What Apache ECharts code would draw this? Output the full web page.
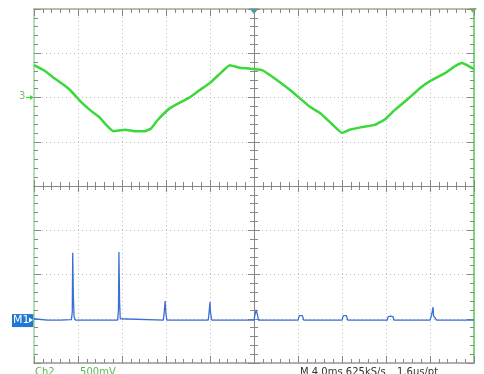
<!DOCTYPE html>
<html>
<head>
<meta charset="utf-8">
<script src="https://cdn.jsdelivr.net/npm/echarts@6/dist/echarts.min.js"></script>
<style>
  html, body { margin: 0; padding: 0; background: #fff; }
  #main { width: 484px; height: 374px; }
</style>
</head>
<body>
<div id="main"></div>
<script>
// screen in divisions: 10 across, 8 down (-4..4)
var ch2Trace = [
    [0, 2.73], [0.25, 2.60], [0.43, 2.46], [0.64, 2.31], [0.82, 2.17], [1.05, 1.92],
    [1.27, 1.72], [1.5, 1.54], [1.64, 1.38], [1.80, 1.24], [2.07, 1.27], [2.30, 1.24],
    [2.52, 1.24], [2.66, 1.30], [2.80, 1.48], [3.09, 1.76], [3.55, 2.01], [3.77, 2.17],
    [4.0, 2.33], [4.27, 2.58], [4.45, 2.73], [4.68, 2.67], [5.02, 2.64], [5.18, 2.62],
    [5.36, 2.51], [5.82, 2.17], [6.27, 1.79], [6.50, 1.65], [6.77, 1.40], [7.0, 1.20],
    [7.18, 1.27], [7.45, 1.33], [7.75, 1.38], [7.98, 1.51], [8.20, 1.72], [8.55, 2.01],
    [8.77, 2.21], [9.0, 2.37], [9.34, 2.55], [9.57, 2.71], [9.73, 2.78], [10, 2.64]
];

var m1Trace = [
    [0, -3.0], [0.3, -3.03], [0.6, -3.03], [0.85, -3.02], [0.87, -2.85], [0.88, -1.51],
    [0.895, -2.5], [0.91, -2.95], [0.94, -3.03],
    [1.9, -3.03], [1.92, -2.8], [1.93, -1.49], [1.945, -2.6], [1.96, -3.0],
    [2.94, -3.03], [2.96, -2.85], [2.98, -2.6], [3.0, -2.9], [3.02, -3.03],
    [3.96, -3.03], [3.98, -2.85], [4.0, -2.62], [4.01, -2.85], [4.04, -3.03],
    [5.0, -3.03], [5.02, -2.92], [5.05, -2.80], [5.08, -2.92], [5.1, -3.03],
    [6.0, -3.03], [6.03, -2.93], [6.06, -2.91], [6.1, -2.93], [6.13, -3.03],
    [7.0, -3.03], [7.03, -2.93], [7.06, -2.89], [7.1, -2.93], [7.13, -3.03],
    [8.03, -3.03], [8.05, -2.95], [8.1, -2.94], [8.16, -2.95], [8.18, -3.03],
    [9.0, -3.03], [9.03, -2.94], [9.07, -2.74], [9.08, -2.93], [9.12, -2.94], [9.15, -3.03],
    [10, -3.03]
];

var ch2Level = 2;      // "3" ground marker level (div)
var m1Level = -3.03;   // M1 reference level (div)

var myChart = echarts.init(document.getElementById('main'));

var box = { left: 34, top: 9, width: 440, height: 354 };
var tickGrey = { color: '#888' };
function frameAxis(pos, min, max, extra) {
    var a = {
        type: 'value', position: pos, min: min, max: max, interval: 1,
        axisLine: { show: true, onZero: false, lineStyle: { color: '#999', width: 1.5 } },
        axisTick: { show: true, inside: true, length: 7, lineStyle: tickGrey },
        minorTick: { show: true, splitNumber: 5, length: 4, lineStyle: tickGrey },
        axisLabel: { show: false },
        splitLine: { show: false }
    };
    return Object.assign(a, extra || {});
}
var dotted = { show: true, lineStyle: { color: '#bbb', type: [1, 3], width: 1 } };
var centerLine = { show: true, onZero: true, lineStyle: { color: '#888', width: 1 } };

myChart.setOption({
    animation: false,
    backgroundColor: '#fff',
    grid: [
        Object.assign({}, box),
        Object.assign({}, box),
        Object.assign({}, box)
    ],
    xAxis: [
        frameAxis('bottom', 0, 10, { gridIndex: 0, splitLine: dotted }),
        frameAxis('top', 0, 10, { gridIndex: 0, axisLine: { show: true, onZero: false, lineStyle: { color: '#aaa98a', width: 1.5 } } }),
        frameAxis('bottom', -5, 5, { gridIndex: 1, axisLine: centerLine,
            axisTick: { show: true, inside: true, length: 6, lineStyle: tickGrey } }),
        frameAxis('bottom', -5, 5, { gridIndex: 2, axisLine: centerLine,
            axisTick: { show: true, inside: false, length: 6, lineStyle: tickGrey } })
    ],
    yAxis: [
        frameAxis('left', -4, 4, { gridIndex: 0, splitLine: dotted, axisLine: { show: true, onZero: false, lineStyle: { color: '#9fd89f', width: 1.5 } } }),
        frameAxis('right', -4, 4, { gridIndex: 0, axisLine: { show: true, onZero: false, lineStyle: { color: '#5c5', width: 1.5 } } }),
        frameAxis('left', -4, 4, { gridIndex: 1, axisLine: centerLine,
            axisTick: { show: true, inside: true, length: 6, lineStyle: tickGrey } }),
        frameAxis('left', -4, 4, { gridIndex: 2, axisLine: centerLine,
            axisTick: { show: true, inside: false, length: 6, lineStyle: tickGrey } })
    ],
    series: [{
        name: 'Ch2',
        type: 'line',
        xAxisIndex: 0, yAxisIndex: 0,
        data: ch2Trace,
        showSymbol: false,
        smooth: 0.12,
        lineStyle: { color: '#3ad83a', width: 2.5 }
    }, {
        name: 'M1',
        type: 'line',
        xAxisIndex: 0, yAxisIndex: 0,
        data: m1Trace,
        showSymbol: false,
        lineStyle: { color: '#3b6fd6', width: 1.3 }
    }]
});

// channel markers placed at their levels through the axis scale
var ch2Y = myChart.convertToPixel({ gridIndex: 0 }, [0, ch2Level])[1];
var m1Y = myChart.convertToPixel({ gridIndex: 0 }, [0, m1Level])[1];
myChart.setOption({
    graphic: [
        { type: 'text', left: 19, top: ch2Y - 6, style: { text: '3', fill: '#7b7', font: '10px "DejaVu Sans"' } },
        { type: 'line', shape: { x1: 26, y1: ch2Y, x2: 32, y2: ch2Y }, style: { stroke: '#3ad83a', lineWidth: 1.2 } },
        { type: 'polygon', shape: { points: [[30, ch2Y - 2.5], [34, ch2Y], [30, ch2Y + 2.5]] }, style: { fill: '#3ad83a' } },
        { type: 'rect', shape: { x: 12, y: m1Y - 6, width: 22, height: 13 }, style: { fill: '#1f78d1' } },
        { type: 'text', left: 13, top: m1Y - 5, style: { text: 'M1', fill: '#fff', font: '11px "DejaVu Sans"' } },
        { type: 'polygon', shape: { points: [[29, m1Y - 2.5], [33, m1Y], [29, m1Y + 2.5]] }, style: { fill: '#fff' } },
        { type: 'polygon', shape: { points: [[249, 8], [259, 8], [254, 14]] }, style: { fill: '#21a6c4' } },
        { type: 'polygon', shape: { points: [[469, 8], [477, 8], [473, 13]] }, style: { fill: '#5c5' } },
        { type: 'text', left: 35, top: 367, style: { text: 'Ch2        500mV', fill: '#5b5', font: '10px "DejaVu Sans"' } },
        { type: 'text', left: 300, top: 367, style: { text: 'M 4.0ms 625kS/s', fill: '#333', font: '10px "DejaVu Sans"' } },
        { type: 'text', left: 397, top: 367, style: { text: '1.6\u00b5s/pt', fill: '#333', font: '10px "DejaVu Sans"' } }
    ]
});
</script>
</body>
</html>
